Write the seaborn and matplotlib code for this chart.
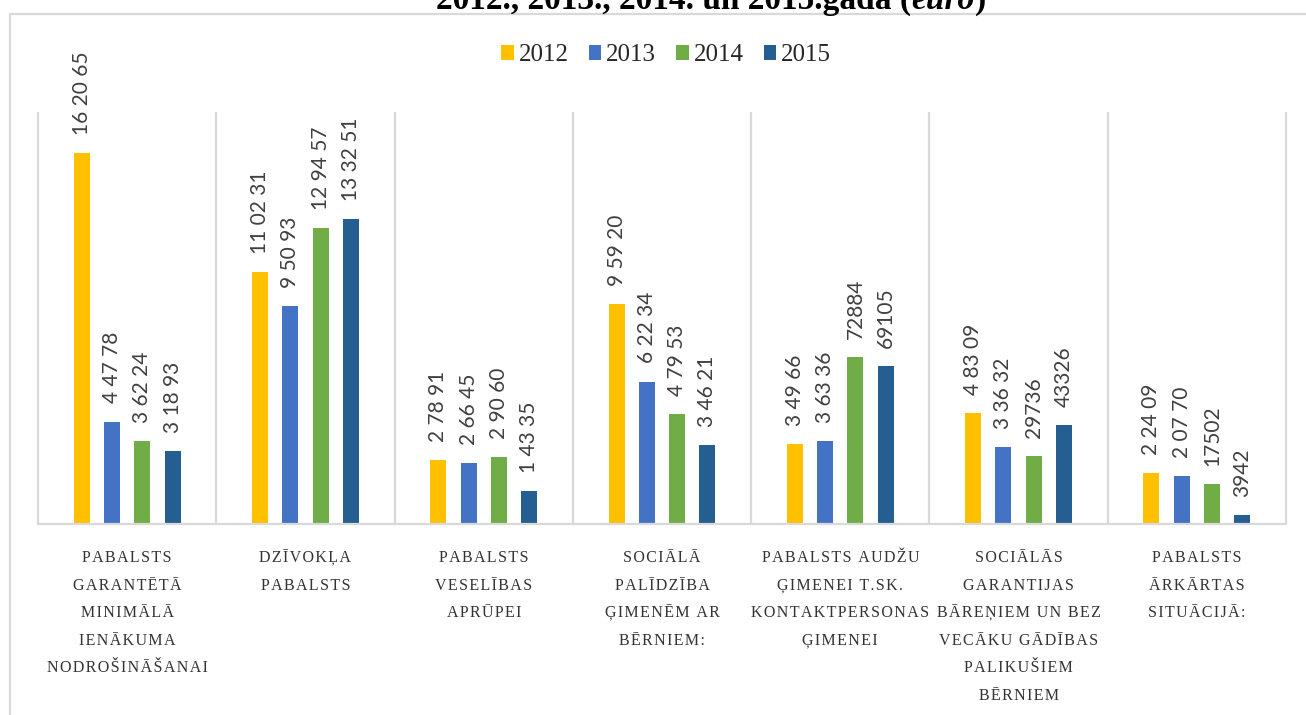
import numpy as np
import pandas as pd
import matplotlib
matplotlib.use("Agg")
import matplotlib.pyplot as plt
import seaborn as sns
from matplotlib.lines import Line2D

# ---------------- data ----------------
categories = [
    "PABALSTS\nGARANTĒTĀ\nMINIMĀLĀ\nIENĀKUMA\nNODROŠINĀŠANAI",
    "DZĪVOKĻA\nPABALSTS",
    "PABALSTS\nVESELĪBAS\nAPRŪPEI",
    "SOCIĀLĀ\nPALĪDZĪBA\nĢIMENĒM AR\nBĒRNIEM:",
    "PABALSTS AUDŽU\nĢIMENEI T.SK.\nKONTAKTPERSONAS\nĢIMENEI",
    "SOCIĀLĀS\nGARANTIJAS\nBĀREŅIEM UN BEZ\nVECĀKU GĀDĪBAS\nPALIKUŠIEM\nBĒRNIEM",
    "PABALSTS\nĀRKĀRTAS\nSITUĀCIJĀ:",
]
years = ["2012", "2013", "2014", "2015"]

values_2012 = [162065, 110231, 27891, 95920, 34966, 48309, 22409]
values_2013 = [44778, 95093, 26645, 62234, 36336, 33632, 20770]
values_2014 = [36224, 129457, 29060, 47953, 72884, 29736, 17502]
values_2015 = [31893, 133251, 14335, 34621, 69105, 43326, 3942]

labels_2012 = ["16 20 65", "11 02 31", "2 78 91", "9 59 20", "3 49 66", "4 83 09", "2 24 09"]
labels_2013 = ["4 47 78", "9 50 93", "2 66 45", "6 22 34", "3 63 36", "3 36 32", "2 07 70"]
labels_2014 = ["3 62 24", "12 94 57", "2 90 60", "4 79 53", "72884", "29736", "17502"]
labels_2015 = ["3 18 93", "13 32 51", "1 43 35", "3 46 21", "69105", "43326", "3942"]

colors = ["#FFC000", "#4472C4", "#70AD47", "#255E91"]

title_main = "2012., 2013., 2014. un 2015.gada ("
title_ital = "euro"
title_end = ")"

# ---------------- frame ----------------
values = [values_2012, values_2013, values_2014, values_2015]
value_labels = [labels_2012, labels_2013, labels_2014, labels_2015]
df = pd.DataFrame({
    "category": [c for _ in years for c in categories],
    "year": [y for y in years for _ in categories],
    "value": [v for vals in values for v in vals],
})

sns.set_style("white")
serif = ["Liberation Serif", "DejaVu Serif"]
sans = ["Lato", "DejaVu Sans"]

W, H = 1306, 715
fig = plt.figure(figsize=(W / 100, H / 100), dpi=100)
fig.patch.set_facecolor("white")
ax = fig.add_axes([38 / W, 1 - 524 / H, 1248 / W, 412 / H])

sns.barplot(data=df, x="category", y="value", hue="year", order=categories,
            hue_order=years, palette=colors, saturation=1, width=0.68, gap=0.47,
            errorbar=None, linewidth=0, ax=ax)

ax.set_xlim(-0.5, len(categories) - 0.5)
ax.set_ylim(0, 180000)
ax.set_xlabel("")
ax.set_ylabel("")
ax.set_yticks([])
ax.set_xticks([])
for s in ["left", "right", "top"]:
    ax.spines[s].set_visible(False)
ax.spines["bottom"].set_color("#D9D9D9")
ax.spines["bottom"].set_linewidth(1.6)

# group separators
ax.vlines(np.arange(len(categories) + 1) - 0.5, 0, 180000, colors="#D9D9D9",
          linewidth=1.6, clip_on=False, zorder=0)

# value labels
for cont, labs in zip(ax.containers, value_labels):
    ax.bar_label(cont, labels=labs, padding=13, rotation=90, fontsize=15,
                 family=sans, color="#404040")


def spaced(s):
    out = []
    for k, ch in enumerate(s):
        out.append(ch)
        if k < len(s) - 1:
            out.append("\u200a")
    return "".join(out)


# category labels (one line at a time for even spacing)
for i, cat in enumerate(categories):
    for j, line in enumerate(cat.split("\n")):
        ax.annotate(spaced(line), xy=(i, 0), xycoords=("data", "axes fraction"),
                    xytext=(0, -(38 + j * 27.6)), textcoords="offset pixels",
                    ha="center", va="baseline", fontsize=11.5, family=serif,
                    color="#333333", annotation_clip=False)

# legend
handles, labs = ax.get_legend_handles_labels()
if ax.get_legend() is not None:
    ax.get_legend().remove()
fig.legend(handles, labs, loc="center", bbox_to_anchor=(666 / W, 1 - 55 / H),
           ncol=4, frameon=False, prop={"family": serif, "size": 18},
           handlelength=0.5, handleheight=0.55, handletextpad=0.2,
           columnspacing=0.8, labelcolor="#262626")

# chart border (top and left edges visible)
fig.add_artist(Line2D([10 / W, 1], [1 - 13.5 / H, 1 - 13.5 / H], color="#D9D9D9", lw=1.6))
fig.add_artist(Line2D([10 / W, 10 / W], [0, 1 - 13.5 / H], color="#D9D9D9", lw=1.6))

# title (cut off at top), bold with italic "euro"
renderer = fig.canvas.get_renderer()
parts = [(title_main, "normal"), (title_ital, "italic"), (title_end, "normal")]
texts = []
for s, st in parts:
    t = fig.text(0, 1 - 9 / H, s, fontsize=24, fontweight="bold", style=st,
                 family=serif, va="baseline", ha="left", color="black")
    texts.append(t)
widths = [t.get_window_extent(renderer).width for t in texts]
x = 711 - sum(widths) / 2
for t, w in zip(texts, widths):
    t.set_x(x / W)
    x += w

fig.savefig("out.png", dpi=100, facecolor="white")
